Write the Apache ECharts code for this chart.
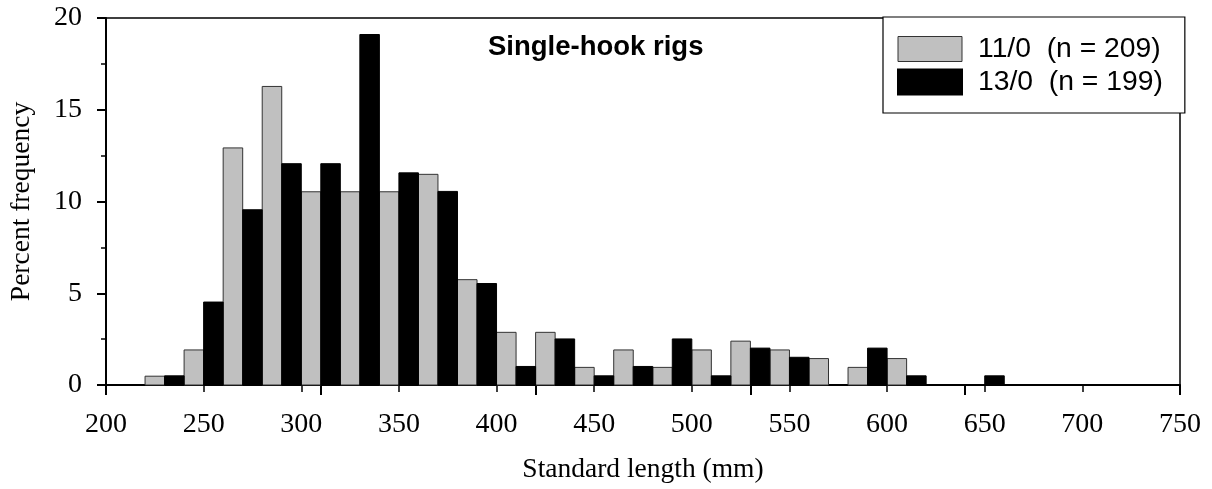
<!DOCTYPE html>
<html>
<head>
<meta charset="utf-8">
<script src="https://cdn.jsdelivr.net/npm/echarts@6/dist/echarts.min.js"></script>
<style>
html,body{margin:0;padding:0;background:#fff;}
#chart{width:1212px;height:489px;}
</style>
</head>
<body>
<div id="chart"></div>
<script>
// Bin starts (mm), 20 mm bins; each bin split into two half-bins (gray, black)
const binStarts = [220,240,260,280,300,320,340,360,380,400,420,440,460,480,500,520,540,560,580,600,620,640];
// Percent frequency, 11/0 (n = 209)
const gray11 = [0.48,1.91,12.92,16.27,10.53,10.53,10.53,11.48,5.74,2.87,2.87,0.96,1.91,0.96,1.91,2.39,1.91,1.44,0.96,1.44,0,0];
// Percent frequency, 13/0 (n = 199)
const black13 = [0.50,4.52,9.55,12.06,12.06,19.10,11.56,10.55,5.53,1.01,2.51,0.50,1.01,2.51,0.50,2.01,1.51,0,2.01,0.50,0,0.50];
const seriesNames = ['11/0  (n = 209)', '13/0  (n = 199)'];
const xTickLabels = [200,250,300,350,400,450,500,550,600,650,700,750];
const yTickLabels = [0,5,10,15,20];
const halfBin = 10;

const serif = '"Liberation Serif", "Times New Roman", serif';
const sans = '"Liberation Sans", Arial, sans-serif';

function makeData(arr, offset) {
  const out = [];
  arr.forEach((v, i) => { if (v > 0) out.push([binStarts[i] + offset, v]); });
  return out;
}
function renderBar(params, api) {
  const x0 = api.value(0), y = api.value(1);
  const p0 = api.coord([x0, y]);
  const p1 = api.coord([x0 + halfBin, 0]);
  return {
    type: 'rect',
    shape: { x: p0[0], y: p0[1], width: p1[0] - p0[0], height: p1[1] - p0[1] },
    style: api.style()
  };
}

const chart = echarts.init(document.getElementById('chart'), null, {renderer: 'canvas'});
chart.setOption({
  animation: false,
  backgroundColor: '#fff',
  title: {
    text: 'Single-hook rigs',
    left: 488, top: 33, padding: 0,
    textStyle: { fontFamily: sans, fontWeight: 'bold', fontSize: 27.5, color: '#000' }
  },
  legend: {
    orient: 'vertical',
    left: 883, top: 17,
    padding: [18, 22, 17, 14],
    itemGap: 5,
    itemWidth: 64, itemHeight: 25,
    backgroundColor: '#fff',
    borderColor: '#000', borderWidth: 1.2, borderRadius: 0,
    icon: 'rect',
    data: [
      { name: seriesNames[0], itemStyle: { color: '#c0c0c0', borderColor: '#333', borderWidth: 1 } },
      { name: seriesNames[1], itemStyle: { color: '#000' } }
    ],
    textStyle: { fontFamily: sans, fontSize: 28.3, color: '#000', lineHeight: 27, padding: [0, 0, 0, 11] }
  },
  grid: {
    left: 104, right: 32, top: 18, bottom: 104,
    show: true, borderColor: '#000', borderWidth: 1.5, backgroundColor: 'transparent'
  },
  xAxis: [{
    type: 'value', min: 200, max: 750, interval: 50,
    name: 'Standard length (mm)', nameLocation: 'middle', nameGap: 71,
    nameTextStyle: { fontFamily: serif, fontSize: 27.5, color: '#000' },
    axisLine: { show: true, onZero: false, lineStyle: { color: '#000', width: 2 } },
    axisTick: { show: true, length: 7, lineStyle: { color: '#000', width: 1.5 } },
    axisLabel: { margin: 26, fontFamily: serif, fontSize: 28, color: '#000',
      formatter: v => xTickLabels.indexOf(v) >= 0 ? String(v) : '' },
    splitLine: { show: false }
  }, {
    type: 'value', min: 200, max: 700, interval: 100, position: 'bottom', gridIndex: 0,
    axisLine: { show: false },
    axisTick: { show: true, length: 10, lineStyle: { color: '#000', width: 2 } },
    axisLabel: { show: false },
    splitLine: { show: false }
  }],
  yAxis: {
    type: 'value', min: 0, max: 20, interval: 5,
    name: 'Percent frequency', nameLocation: 'middle', nameGap: 70,
    nameTextStyle: { fontFamily: serif, fontSize: 27.5, color: '#000' },
    axisLine: { show: true, lineStyle: { color: '#000', width: 2 } },
    axisTick: { show: true, length: 9, lineStyle: { color: '#000', width: 2 } },
    minorTick: { show: true, splitNumber: 2, length: 5, lineStyle: { color: '#000', width: 1.5 } },
    axisLabel: { margin: 24, fontFamily: serif, fontSize: 28, color: '#000',
      formatter: v => yTickLabels.indexOf(v) >= 0 ? String(v) : '' },
    splitLine: { show: false }
  },
  series: [{
    name: seriesNames[0], type: 'custom', xAxisIndex: 0,
    renderItem: renderBar,
    encode: { x: 0, y: 1 },
    itemStyle: { color: '#c0c0c0', borderColor: '#333', borderWidth: 1 },
    data: makeData(gray11, 0)
  }, {
    name: seriesNames[1], type: 'custom', xAxisIndex: 0,
    renderItem: renderBar,
    encode: { x: 0, y: 1 },
    itemStyle: { color: '#000', borderColor: '#000', borderWidth: 1 },
    data: makeData(black13, halfBin)
  }]
});
</script>
</body>
</html>
